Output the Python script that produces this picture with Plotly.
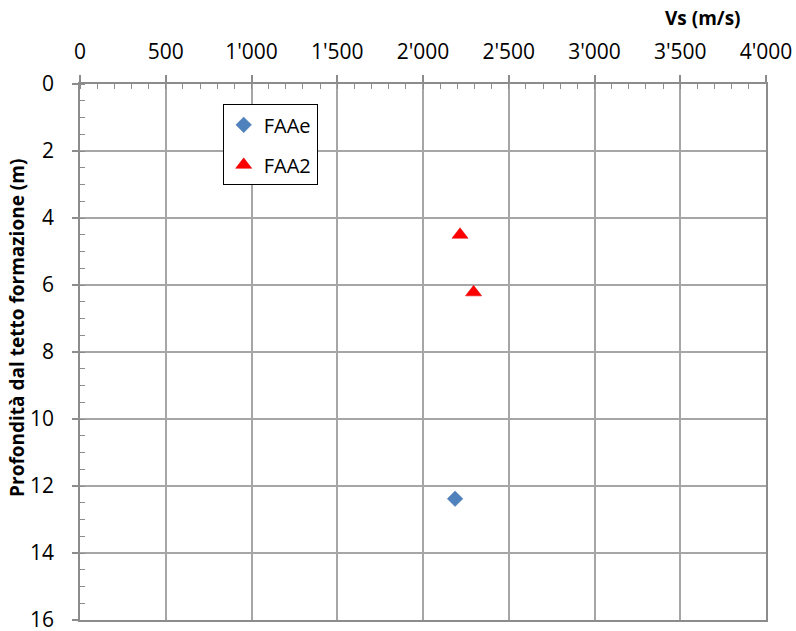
import plotly.graph_objects as go

# Data
faae_vs = [2187]
faae_depth = [12.38]
faa2_vs = [2216, 2295]
faa2_depth = [4.5, 6.22]

x_ticks = [0, 500, 1000, 1500, 2000, 2500, 3000, 3500, 4000]
y_ticks = [0, 2, 4, 6, 8, 10, 12, 14, 16]

FONT = "Open Sans, Liberation Sans, sans-serif"

fig = go.Figure()
fig.add_trace(go.Scatter(
    x=faae_vs, y=faae_depth, mode="markers", name="FAAe",
    legendgroup="a",
    marker=dict(symbol="diamond", size=12, color="#4f81bd",
                line=dict(width=0.5, color="#4a7ab5")),
))
fig.add_trace(go.Scatter(
    x=faa2_vs, y=faa2_depth, mode="markers", name="FAA2",
    legendgroup="b",
    marker=dict(symbol="triangle-up", size=14, color="#ff0000",
                line=dict(width=0.5, color="#e00000")),
))

grid_col = "#a6a6a6"
line_col = "#8c8c8c"
fig.update_layout(
    width=796, height=631,
    margin=dict(l=80, r=30, t=84, b=11),
    paper_bgcolor="white", plot_bgcolor="white",
    separators=".'",
    font=dict(family=FONT, size=21, color="black"),
    showlegend=True,
    legend=dict(
        x=0.208, y=0.962, xanchor="left", yanchor="top",
        bordercolor="black", borderwidth=1, bgcolor="white",
        traceorder="grouped", tracegroupgap=11,
        font=dict(family=FONT, size=20, color="black"),
    ),
    xaxis=dict(
        side="top", range=[0, 4000], tickvals=x_ticks, tickformat=",d",
        automargin=False, ticklabeloverflow="allow",
        showgrid=True, gridcolor=grid_col, gridwidth=1.5,
        showline=True, linecolor=line_col, linewidth=1.5, mirror=True,
        ticks="outside", ticklen=7, tickcolor=line_col, tickwidth=1.5,
        ticklabelstandoff=8,
        minor=dict(dtick=100, ticks="inside", ticklen=5, tickcolor=line_col,
                   tickwidth=1, showgrid=False),
        zeroline=False,
        tickfont=dict(size=21),
    ),
    yaxis=dict(
        range=[16, 0], tickvals=y_ticks,
        automargin=False, ticklabeloverflow="allow",
        showgrid=True, gridcolor=grid_col, gridwidth=1.5,
        showline=True, linecolor=line_col, linewidth=1.5, mirror=True,
        ticks="outside", ticklen=6, tickcolor=line_col, tickwidth=1.5,
        ticklabelstandoff=14,
        minor=dict(dtick=0.5, ticks="inside", ticklen=5, tickcolor=line_col,
                   tickwidth=1, showgrid=False),
        zeroline=False,
        tickfont=dict(size=21),
    ),
    annotations=[
        dict(text="<b>Vs (m/s)</b>", xref="paper", yref="paper",
             x=1.0, y=1.0, xanchor="right", yanchor="middle",
             xshift=-23, yshift=66,
             showarrow=False, font=dict(size=19)),
        dict(text="<b>Profondità dal tetto formazione (m)</b>",
             xref="paper", yref="paper", x=0, y=0.545,
             xanchor="center", yanchor="middle", xshift=-63,
             textangle=-90, showarrow=False, font=dict(size=19)),
    ],
)

fig.write_html(
    "out.html",
    config={"displayModeBar": False},
    post_script="document.body.style.margin='0';document.body.style.overflow='hidden';",
)
